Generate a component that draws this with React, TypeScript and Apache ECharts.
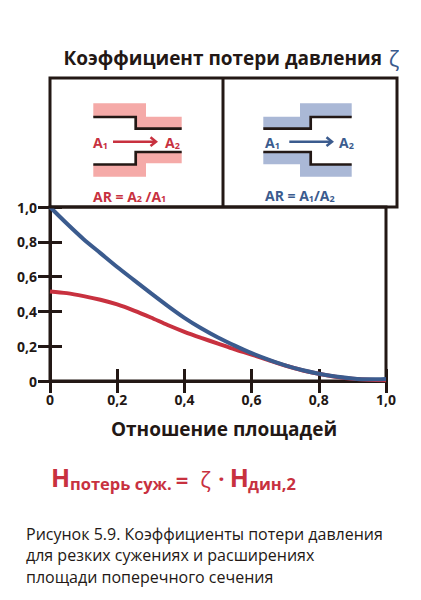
import React, { useEffect, useRef } from "react";
import * as echarts from "echarts";

// ---- data ----
const areaRatio = [0, 0.05, 0.1, 0.15, 0.2, 0.25, 0.3, 0.35, 0.4, 0.45, 0.5, 0.55, 0.6, 0.65, 0.7, 0.75, 0.8, 0.85, 0.9, 0.95, 1.0];
const contractionLoss = [0.515, 0.505, 0.488, 0.467, 0.44, 0.405, 0.365, 0.322, 0.283, 0.248, 0.215, 0.182, 0.152, 0.12, 0.089, 0.062, 0.042, 0.025, 0.013, 0.007, 0.005];
const expansionLoss = [1.0, 0.905, 0.815, 0.735, 0.655, 0.58, 0.505, 0.432, 0.363, 0.303, 0.25, 0.203, 0.16, 0.123, 0.09, 0.063, 0.042, 0.026, 0.015, 0.01, 0.012];
const xTickLabels = ["0", "0,2", "0,4", "0,6", "0,8", "1,0"];
const yTickLabels = ["0", "0,2", "0,4", "0,6", "0,8", "1,0"];

const titleText = "Коэффициент потери давления";
const axisTitle = "Отношение площадей";
const captionLines = [
  "Рисунок 5.9. Коэффициенты потери давления",
  "для резких сужениях и расширениях",
  "площади поперечного сечения",
];

const DARK = "#231815";
const RED = "#c8313f";
const BLUE = "#3b5b8e";
const PINK = "#f5aaa8";
const LIGHTBLUE = "#aab8d6";
const FONT = "'Open Sans', 'Noto Sans', sans-serif";

function tickLabel(labels: string[]) {
  return (v: number) => labels[Math.round(v / 0.2)] ?? "";
}

function sub(main: string, s: string) {
  return `{a|${main}}{s|${s}}`;
}

function richA(color: string) {
  return {
    a: { fontFamily: FONT, fontWeight: 700, fontSize: 14, lineHeight: 14, fill: color, color },
    s: { fontFamily: FONT, fontWeight: 700, fontSize: 9, lineHeight: 5, verticalAlign: "bottom", fill: color, color },
  };
}

function labelText(x: number, y: number, text: string, color: string) {
  return {
    type: "text",
    x,
    y,
    style: { text, rich: richA(color), fill: color, verticalAlign: "middle" },
  };
}

export default function App() {
  const ref = useRef<HTMLDivElement>(null);
  useEffect(() => {
    if (!ref.current) return;
    const chart = echarts.init(ref.current, null, { renderer: "svg" });
    const tickStyle = { color: DARK, width: 3 };
    const labelStyle = { fontFamily: FONT, fontWeight: 700, fontSize: 14, color: DARK };

    const polyStyle = (fill: string) => ({ fill, stroke: "none" });
    const wallStyle = { stroke: DARK, lineWidth: 2.7, fill: "none" };

    const graphic: any[] = [
      // title
      {
        type: "text",
        x: 55.5,
        y: 49.5,
        style: {
          text: `{t|${titleText}}  {z|ζ}`,
          rich: {
            t: { fontFamily: FONT, fontWeight: 700, fontSize: 19, fill: DARK, color: DARK },
            z: { fontFamily: FONT, fontWeight: 400, fontSize: 22, fill: BLUE, color: BLUE },
          },
          verticalAlign: "middle",
        },
      },
      // diagram box
      { type: "rect", shape: { x: 42, y: 70, width: 347, height: 129 }, style: { fill: "none", stroke: DARK, lineWidth: 3 }, z: 10 },
      { type: "line", shape: { x1: 215, y1: 70, x2: 215, y2: 199 }, style: { stroke: DARK, lineWidth: 3 }, z: 10 },
      // contraction (left)
      { type: "polygon", shape: { points: [[85.3, 95.3], [138, 95.3], [138, 108.7], [173.7, 108.7], [173.7, 120.7], [127.7, 120.7], [127.7, 109], [85.3, 109]] }, style: polyStyle(PINK) },
      { type: "polygon", shape: { points: [[85.3, 156.5], [127.7, 156.5], [127.7, 144], [173.7, 144], [173.7, 155.3], [138, 155.3], [138, 168.7], [85.3, 168.7]] }, style: polyStyle(PINK) },
      { type: "polyline", shape: { points: [[85.3, 109], [127.7, 109], [127.7, 120.7], [173.7, 120.7]] }, style: wallStyle },
      { type: "polyline", shape: { points: [[85.3, 156.5], [127.7, 156.5], [127.7, 144], [173.7, 144]] }, style: wallStyle },
      { type: "line", shape: { x1: 105, y1: 133.7, x2: 147, y2: 133.7 }, style: { stroke: RED, lineWidth: 2.5 } },
      { type: "polyline", shape: { points: [[142.5, 129.3], [148, 133.7], [142.5, 138.1]] }, style: { stroke: RED, lineWidth: 2.5, fill: "none" } },
      labelText(85, 134.7, sub("A", "1"), RED),
      labelText(157, 134.7, sub("A", "2"), RED),
      labelText(85, 188, `{a|AR = A}{s|2}{a| /A}{s|1}`, RED),
      // expansion (right)
      { type: "polygon", shape: { points: [[255.3, 108.7], [292, 108.7], [292, 95.3], [343.7, 95.3], [343.7, 109], [302.7, 109], [302.7, 120.7], [255.3, 120.7]] }, style: polyStyle(LIGHTBLUE) },
      { type: "polygon", shape: { points: [[255.3, 144], [302.7, 144], [302.7, 156.5], [343.7, 156.5], [343.7, 168.7], [292, 168.7], [292, 156.3], [255.3, 156.3]] }, style: polyStyle(LIGHTBLUE) },
      { type: "polyline", shape: { points: [[255.3, 120.7], [302.7, 120.7], [302.7, 109], [343.7, 109]] }, style: wallStyle },
      { type: "polyline", shape: { points: [[255.3, 144], [302.7, 144], [302.7, 156.5], [343.7, 156.5]] }, style: wallStyle },
      { type: "line", shape: { x1: 281.3, y1: 133.7, x2: 323, y2: 133.7 }, style: { stroke: BLUE, lineWidth: 2.5 } },
      { type: "polyline", shape: { points: [[318.5, 129.3], [324, 133.7], [318.5, 138.1]] }, style: { stroke: BLUE, lineWidth: 2.5, fill: "none" } },
      labelText(257, 134.7, sub("A", "1"), BLUE),
      labelText(331, 134.7, sub("A", "2"), BLUE),
      labelText(257, 187.5, `{a|AR = A}{s|1}{a|/A}{s|2}`, BLUE),
      // axis title
      {
        type: "text",
        x: 216,
        y: 420.5,
        style: { text: axisTitle, fontFamily: FONT, fontWeight: 700, fontSize: 19, fill: DARK, align: "center", verticalAlign: "middle" },
      },
      // formula
      { type: "text", x: 43, y: 469, style: { text: "H", fontFamily: FONT, fontWeight: 700, fontSize: 25, fill: RED, verticalAlign: "middle" } },
      { type: "text", x: 62, y: 475, style: { text: "потерь суж.", fontFamily: FONT, fontWeight: 700, fontSize: 16.5, fill: RED, verticalAlign: "middle" } },
      { type: "text", x: 174, y: 470.5, style: { text: "=", fontFamily: FONT, fontWeight: 700, fontSize: 22, fill: RED, align: "center", verticalAlign: "middle" } },
      { type: "text", x: 197.5, y: 470.5, style: { text: "ζ", fontFamily: FONT, fontWeight: 400, fontSize: 22, fill: RED, align: "center", verticalAlign: "middle" } },
      { type: "text", x: 213.5, y: 470.2, style: { text: "·", fontFamily: FONT, fontWeight: 700, fontSize: 22, fill: RED, align: "center", verticalAlign: "middle" } },
      { type: "text", x: 221.7, y: 469, style: { text: "H", fontFamily: FONT, fontWeight: 700, fontSize: 25, fill: RED, verticalAlign: "middle" } },
      { type: "text", x: 240, y: 475, style: { text: "дин,2", fontFamily: FONT, fontWeight: 700, fontSize: 16.5, fill: RED, verticalAlign: "middle" } },
      // caption
      ...captionLines.map((t, i) => ({
        type: "text",
        x: 18,
        y: 525.8 + i * 21.6,
        style: { text: t, fontFamily: FONT, fontWeight: 400, fontSize: 16, fill: DARK, verticalAlign: "middle" },
      })),
    ];

    const xPairs = (vals: number[]) => areaRatio.map((x, i) => [x, vals[i]]);

    chart.setOption({
      animation: false,
      grid: { left: 42, top: 199, width: 347, height: 174, show: true, borderColor: DARK, borderWidth: 3, backgroundColor: "transparent" },
      xAxis: [
        {
          type: "value", min: 0, max: 1, interval: 0.2, position: "bottom",
          axisLine: { show: true, lineStyle: tickStyle },
          axisTick: { show: true, inside: true, length: 12, lineStyle: tickStyle },
          axisLabel: { ...labelStyle, margin: 11, formatter: tickLabel(xTickLabels) },
          splitLine: { show: false },
        },
        {
          type: "value", min: 0, max: 1, interval: 0.2, position: "top",
          axisLine: { show: true, lineStyle: tickStyle },
          axisTick: { show: true, inside: true, length: 12, lineStyle: tickStyle },
          axisLabel: { show: false },
          splitLine: { show: false },
        },
      ],
      yAxis: [
        {
          type: "value", min: 0, max: 1, interval: 0.2, position: "left",
          axisLine: { show: true, lineStyle: tickStyle },
          axisTick: { show: true, inside: true, length: 12, lineStyle: tickStyle },
          axisLabel: { ...labelStyle, margin: 13, formatter: tickLabel(yTickLabels) },
          splitLine: { show: false },
        },
        {
          type: "value", min: 0, max: 1, interval: 0.2, position: "right",
          axisLine: { show: true, lineStyle: tickStyle },
          axisTick: { show: true, inside: true, length: 12, lineStyle: tickStyle },
          axisLabel: { show: false },
          splitLine: { show: false },
        },
      ],
      series: [
        {
          type: "line", name: "Сужение", data: xPairs(contractionLoss), smooth: 0.3, showSymbol: false,
          lineStyle: { color: RED, width: 4 }, z: 3,
        },
        {
          type: "line", name: "Расширение", data: xPairs(expansionLoss), smooth: 0.3, showSymbol: false,
          lineStyle: { color: BLUE, width: 4 }, z: 4,
        },
      ],
      graphic,
    });
    return () => chart.dispose();
  }, []);
  return <div ref={ref} style={{ width: 391, height: 584 }} />;
}
